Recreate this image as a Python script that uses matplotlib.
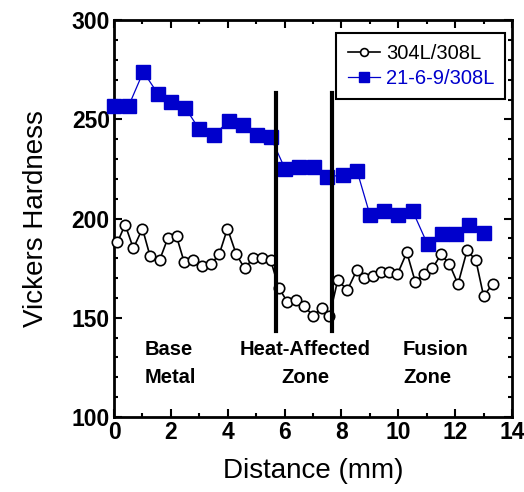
import matplotlib.pyplot as plt
from matplotlib.ticker import MultipleLocator

plt.rcParams['font.family'] = ['Liberation Sans', 'DejaVu Sans']

# 304L/308L weld (open circles)
x_304 = [0.12, 0.39, 0.68, 1.0, 1.27, 1.6, 1.89, 2.2, 2.47, 2.79, 3.1, 3.41, 3.7,
         3.99, 4.3, 4.59, 4.9, 5.22, 5.51, 5.8, 6.1, 6.4, 6.69, 7.0, 7.31, 7.58,
         7.87, 8.21, 8.54, 8.81, 9.1, 9.39, 9.68, 9.97, 10.3, 10.6, 10.89, 11.2,
         11.51, 11.8, 12.1, 12.42, 12.73, 13.0, 13.32]
hv_304 = [188, 197, 185, 195, 181, 179, 190, 191, 178, 179, 176, 177, 182,
          195, 182, 175, 180, 180, 179, 165, 158, 159, 156, 151, 155, 151,
          169, 164, 174, 170, 171, 173, 173, 172, 183, 168, 172, 175,
          182, 177, 167, 184, 179, 161, 167]

# 21-6-9/308L weld (filled squares)
x_216 = [0.0, 0.52, 1.03, 1.54, 2.0, 2.5, 3.0, 3.5, 4.03, 4.53, 5.02, 5.51,
         6.02, 6.52, 7.02, 7.49, 8.04, 8.55, 9.0, 9.5, 10.0, 10.5, 11.03,
         11.53, 12.03, 12.5, 13.03]
hv_216 = [257, 257, 274, 263, 259, 256, 245, 242, 249, 247, 242, 241,
          225, 226, 226, 221, 222, 224, 202, 204, 202, 204, 187,
          192, 192, 197, 193]

haz_bounds = [5.7, 7.66]

fig = plt.figure(figsize=(5.24, 4.92), dpi=100)
ax = fig.add_axes([0.2176, 0.1524, 0.7595, 0.8065])

ax.plot(x_304, hv_304, color='black', lw=1.2, marker='o', ms=7.5,
        mfc='white', mec='black', mew=1.2, label='304L/308L', clip_on=False, zorder=3)
ax.plot(x_216, hv_216, color='#0000cc', lw=0.9, marker='s', ms=10,
        mfc='#0000cc', mec='#0000cc', label='21-6-9/308L', clip_on=False, zorder=4)

for xb in haz_bounds:
    ax.plot([xb, xb], [143.5, 263.5], color='black', lw=3, zorder=5)

ax.set_xlim(0, 14)
ax.set_ylim(100, 300)
ax.xaxis.set_major_locator(MultipleLocator(2))
ax.xaxis.set_minor_locator(MultipleLocator(1))
ax.yaxis.set_major_locator(MultipleLocator(50))
ax.yaxis.set_minor_locator(MultipleLocator(10))
ax.tick_params(which='both', direction='in', top=True, right=True, width=1.5)
ax.tick_params(which='major', length=6, labelsize=16.5, pad=3)
ax.tick_params(which='minor', length=3)
ax.tick_params(axis='x', labeltop=False)
for lab in ax.get_xticklabels() + ax.get_yticklabels():
    lab.set_fontweight('bold')
for sp in ax.spines.values():
    sp.set_linewidth(2)

ax.set_xlabel('Distance (mm)', fontsize=20, labelpad=10)
ax.set_ylabel('Vickers Hardness', fontsize=20, labelpad=16)

tkw = dict(fontsize=14.5, fontweight='bold', va='center', linespacing=1.6)
ax.text(1.09, 126.8, 'Base\nMetal', ha='left', **tkw)
ax.text(6.72, 126.8, 'Heat-Affected\nZone', ha='center', multialignment='center', **tkw)
ax.text(10.17, 126.8, 'Fusion\nZone', ha='left', **tkw)

leg = ax.legend(loc='upper right', bbox_to_anchor=(0.983, 0.968), fontsize=14.5,
                frameon=True, fancybox=False, edgecolor='black', framealpha=1,
                handlelength=1.6, handletextpad=0.3, borderpad=0.55,
                labelspacing=0.3, markerscale=0.75, borderaxespad=0)
leg.get_frame().set_linewidth(1.5)
leg.get_texts()[1].set_color('#0000cc')

fig.savefig('out.png', dpi=100)
